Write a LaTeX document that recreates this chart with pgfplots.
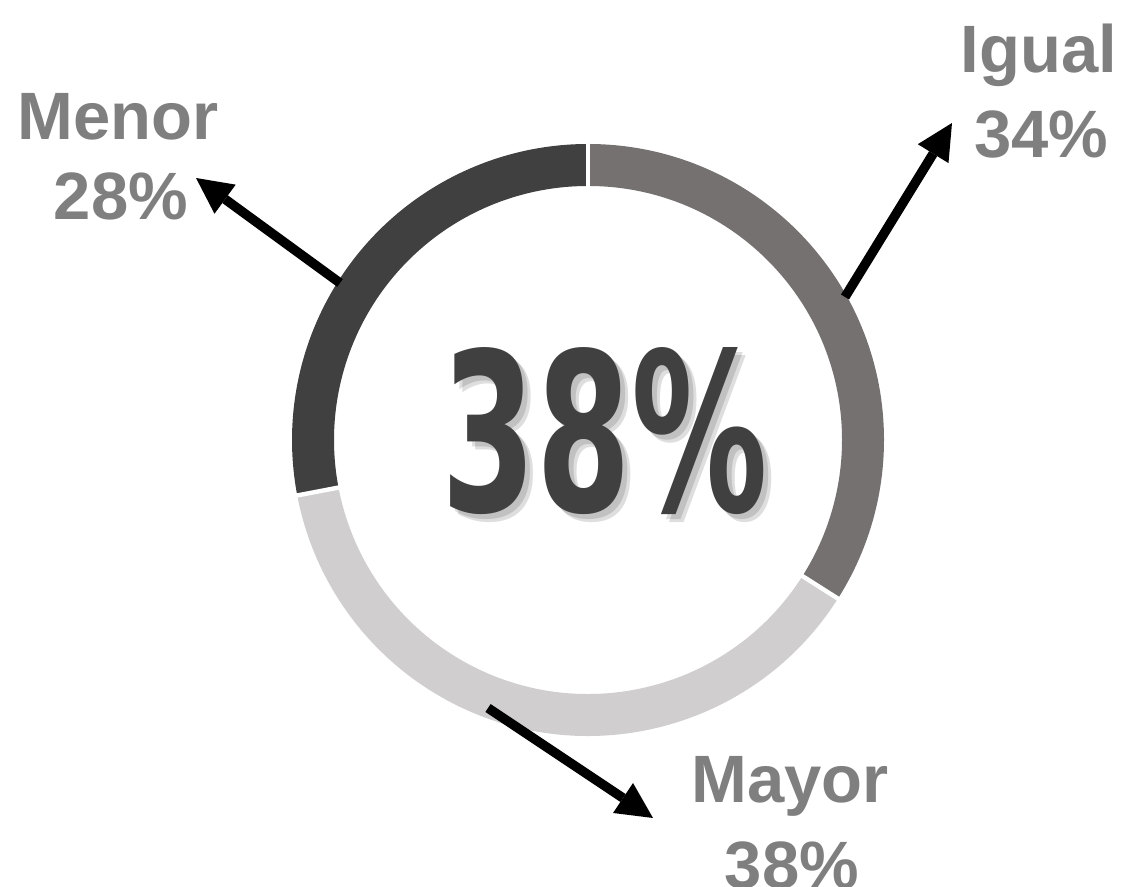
\documentclass[border=0pt]{standalone}
\usepackage{fontspec}
\setmainfont{Liberation Sans}
\newfontfamily\bigfont{DejaVu Sans}
\usepackage{graphicx}
\usepackage{pgfplots}
\pgfplotsset{compat=1.18}
\usetikzlibrary{arrows.meta}
\definecolor{cIgual}{HTML}{767171}
\definecolor{cMayor}{HTML}{D0CECE}
\definecolor{cMenor}{HTML}{404040}
\definecolor{lbl}{HTML}{7F7F7F}
% data (percent)
\def\pIgual{34}
\def\pMayor{38}
\def\pMenor{28}
% ring geometry (pt): mid radius
\def\rx{137.5}
\def\ry{137.5}
\begin{document}
\begin{tikzpicture}
\begin{axis}[hide axis, scale only axis, width=562pt, height=443.5pt,
  xmin=-588, xmax=536, ymin=-460, ymax=427, clip=false]
\coordinate (SW) at (rel axis cs:0,0);
\coordinate (NE) at (rel axis cs:1,1);
% ring segments
\draw[cIgual, line width=21pt] (axis cs:0,-13) ++({\rx*1pt*cos(90)},{\ry*1pt*sin(90)})
  arc[start angle=90, end angle={90-3.6*\pIgual}, x radius=\rx pt, y radius=\ry pt];
\draw[cMayor, line width=21pt] (axis cs:0,-13) ++({\rx*1pt*cos(90-3.6*\pIgual)},{\ry*1pt*sin(90-3.6*\pIgual)})
  arc[start angle={90-3.6*\pIgual}, end angle={90-3.6*(\pIgual+\pMayor)}, x radius=\rx pt, y radius=\ry pt];
\draw[cMenor, line width=21pt] (axis cs:0,-13) ++({\rx*1pt*cos(90-3.6*(\pIgual+\pMayor))},{\ry*1pt*sin(90-3.6*(\pIgual+\pMayor))})
  arc[start angle={90-3.6*(\pIgual+\pMayor)}, end angle={90-3.6*(\pIgual+\pMayor+\pMenor)}, x radius=\rx pt, y radius=\ry pt];
% separators
\draw[white, line width=2.2pt] (axis cs:0,-13) ++({0.8*\rx*1pt*cos(90)},{0.8*\ry*1pt*sin(90)}) -- ++({0.4*\rx*1pt*cos(90)},{0.4*\ry*1pt*sin(90)});
\draw[white, line width=2.2pt] (axis cs:0,-13) ++({0.8*\rx*1pt*cos(90-3.6*\pIgual)},{0.8*\ry*1pt*sin(90-3.6*\pIgual)}) -- ++({0.4*\rx*1pt*cos(90-3.6*\pIgual)},{0.4*\ry*1pt*sin(90-3.6*\pIgual)});
\draw[white, line width=2.2pt] (axis cs:0,-13) ++({0.8*\rx*1pt*cos(90-3.6*(\pIgual+\pMayor))},{0.8*\ry*1pt*sin(90-3.6*(\pIgual+\pMayor))}) -- ++({0.4*\rx*1pt*cos(90-3.6*(\pIgual+\pMayor))},{0.4*\ry*1pt*sin(90-3.6*(\pIgual+\pMayor))});
% arrows
\draw[black, line width=4.75pt, -{Triangle[length=18pt, width=18pt, line width=0pt]}]
  (axis cs:-248,144) -- (axis cs:-392,249);
\draw[black, line width=4.75pt, -{Triangle[length=18pt, width=18pt, line width=0pt]}]
  (axis cs:257,130) -- (axis cs:364,304);
\draw[black, line width=4.75pt, -{Triangle[length=18pt, width=18pt, line width=0pt]}]
  (axis cs:-100,-281) -- (axis cs:65,-391);
% labels
\tikzset{lab/.style={text=lbl, font=\fontsize{33.5}{40}\selectfont\bfseries, anchor=base, inner sep=0pt}}
\node[lab] at (axis cs:-470,287) {Menor};
\node[lab] at (axis cs:-467,207) {28\%};
\node[lab] at (axis cs:451,354) {Igual};
\node[lab] at (axis cs:453.5,269) {34\%};
\node[lab] at (axis cs:202,-376) {Mayor};
\node[lab] at (axis cs:204,-462) {38\%};
% central value with soft shadow
\node[anchor=base, inner sep=0pt, text=black, opacity=0.13] at (axis cs:22,-90) {\resizebox{163pt}{82pt}{\bigfont\bfseries 38\%}};
\node[anchor=base, inner sep=0pt, text=black, opacity=0.13] at (axis cs:25,-93) {\resizebox{163pt}{82pt}{\bigfont\bfseries 38\%}};
\node[anchor=base, inner sep=0pt, text=cMenor] at (axis cs:17,-85) {\resizebox{163pt}{82pt}{\bigfont\bfseries 38\%}};
\end{axis}
\pgfresetboundingbox
\useasboundingbox (SW) rectangle (NE);
\end{tikzpicture}
\end{document}
